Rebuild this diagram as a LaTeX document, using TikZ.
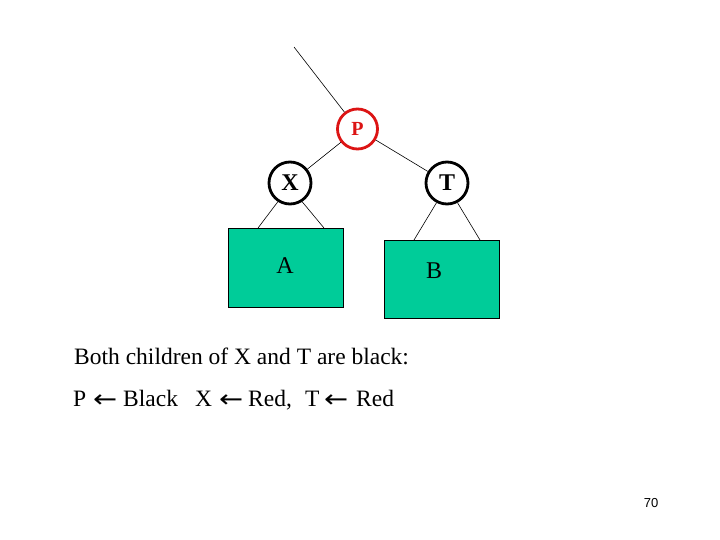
\documentclass[tikz,border=0pt]{standalone}
\usepackage{fontspec}
\usepackage{graphicx}
\setmainfont{Liberation Serif}
\newfontfamily\arrowfont{DejaVu Sans}
\newfontfamily\numfont{Liberation Sans}
\definecolor{boxgreen}{RGB}{0,204,153}
\definecolor{nodered}{RGB}{220,20,20}
\tikzset{
  treenode/.style={circle, draw=black, line width=2.8pt, minimum size=42pt, inner sep=0pt, font=\fontsize{24}{28}\selectfont\bfseries},
  rednode/.style={treenode, minimum size=40pt, draw=nodered, text=nodered, font=\fontsize{20}{24}\selectfont\bfseries},
  subtree/.style={draw=black, line width=0.8pt, fill=boxgreen, minimum width=115pt, inner sep=0pt, anchor=north west},
  edge/.style={draw=black, line width=0.6pt},
  caption/.style={anchor=base west, inner sep=0pt, font=\fontsize{23.5}{28}\selectfont},
  leaflabel/.style={font=\fontsize{24}{28}\selectfont}
}
\newcommand{\larr}{\raisebox{-1pt}{\scalebox{1.6}[1.35]{\arrowfont\fontsize{18}{22}\selectfont ←}}}
\newcommand{\seg}[2]{\makebox[#1][l]{#2}}
\begin{document}
\begin{tikzpicture}[x=1pt,y=-1pt]
\useasboundingbox (0,0) rectangle (720,540);
\node[rednode] (P) at (357.5,129) {P};
\node[treenode] (X) at (290,183) {X};
\node[treenode] (T) at (447,183) {T};
\node[subtree, minimum height=79pt] (A) at (228,228) {};
\node[subtree, minimum height=78pt] (B) at (384,240) {};
\node[leaflabel] (Alab) at (285,266) {A};
\node[leaflabel] (Blab) at (434,271) {B};
\coordinate (top) at (294,47);
\coordinate (A1) at (258,228);
\coordinate (A2) at (324,228);
\coordinate (B1) at (414,240);
\coordinate (B2) at (480,240);
\draw[edge] (top) -- (P);
\draw[edge] (P) -- (X);
\draw[edge] (P) -- (T);
\draw[edge] (X.-123) -- (A1);
\draw[edge] (X.-57) -- (A2);
\draw[edge] (T.-118) -- (B1);
\draw[edge] (T.-62) -- (B2);
\node[caption] (c1) at (74,364) {Both children of X and T are black:};
\node[caption] (c2) at (73,406) {\seg{20pt}{P}\seg{30pt}{\larr}\seg{72pt}{Black}\seg{24pt}{X}\seg{29pt}{\larr}\seg{57pt}{Red,}\seg{19pt}{T}\seg{32pt}{\larr}Red};
\node[font=\numfont\fontsize{13}{15}\selectfont] (num) at (651,503) {70};
\end{tikzpicture}
\end{document}
